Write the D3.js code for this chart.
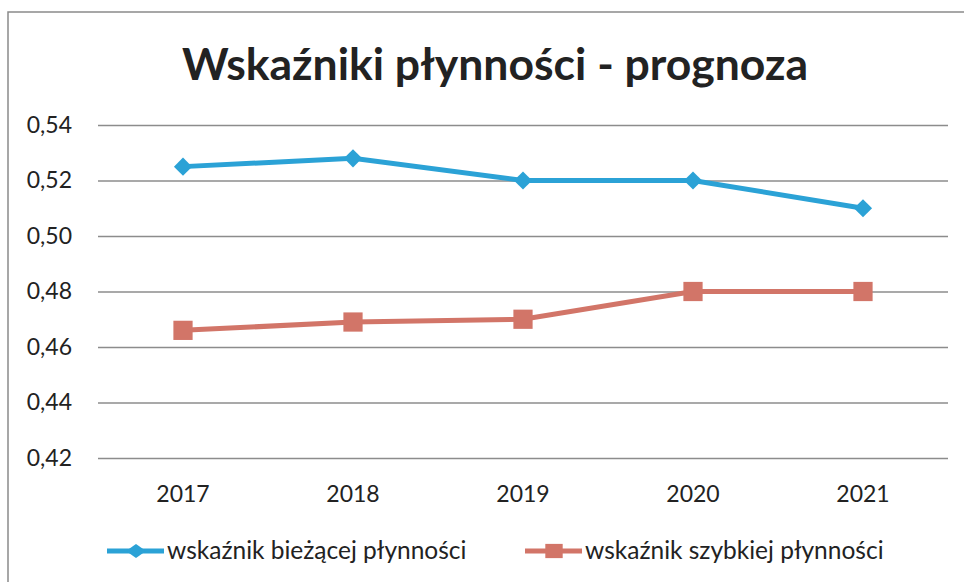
<!DOCTYPE html>
<html lang="pl">
<head>
<meta charset="utf-8">
<title>Wskaźniki płynności - prognoza</title>
<script src="https://d3js.org/d3.v7.min.js"></script>
<style>
  body { margin: 0; background: #fff; }
  text { font-family: Lato, "Open Sans", sans-serif; fill: #222; }
</style>
</head>
<body>
<script>
// dane
var years = ["2017", "2018", "2019", "2020", "2021"];
var biezacej = [0.525, 0.528, 0.520, 0.520, 0.510];
var szybkiej = [0.466, 0.469, 0.470, 0.480, 0.480];
var yTicks = [0.42, 0.44, 0.46, 0.48, 0.50, 0.52, 0.54];
var seriesNames = ["wskaźnik bieżącej płynności", "wskaźnik szybkiej płynności"];
var colors = ["#2ba2d6", "#d27568"];

var W = 964, H = 582;
var mLeft = 98, mRight = 948, mTop = 125, mBottom = 458;

var svg = d3.select("body").append("svg")
  .attr("width", W)
  .attr("height", H);

// ramka (prawy i dolny brzeg poza kadrem)
svg.append("rect")
  .attr("x", 8).attr("y", 12)
  .attr("width", 980).attr("height", 600)
  .attr("fill", "none")
  .attr("stroke", "#8a8a8a")
  .attr("stroke-width", 1.5);

svg.append("text")
  .attr("x", 495).attr("y", 80)
  .attr("text-anchor", "middle")
  .attr("font-size", "44.5px")
  .attr("font-weight", "bold")
  .text("Wskaźniki płynności - prognoza");

var x = d3.scaleBand().domain(years).range([mLeft, mRight]);
var y = d3.scaleLinear().domain([0.42, 0.54]).range([mBottom, mTop]);

// siatka + etykiety osi Y
var yAxis = svg.append("g")
  .attr("transform", "translate(" + mLeft + ",0)")
  .call(d3.axisLeft(y).tickValues(yTicks)
    .tickSize(-(mRight - mLeft))
    .tickPadding(26)
    .tickFormat(function (d) { return d3.format(".2f")(d).replace(".", ","); }));
yAxis.select(".domain").remove();
yAxis.selectAll("line").attr("stroke", "#8c8c8c").attr("stroke-width", 1.5);
yAxis.selectAll("text").attr("font-size", "23px").attr("font-family", "Lato, sans-serif").attr("fill", "#222");

// oś X
var xAxis = svg.append("g")
  .attr("transform", "translate(0," + mBottom + ")")
  .call(d3.axisBottom(x).tickSize(0).tickPadding(28));
xAxis.select(".domain").remove();
xAxis.selectAll("text").attr("font-size", "23px").attr("font-family", "Lato, sans-serif").attr("fill", "#222");

var cx = function (i) { return x(years[i]) + x.bandwidth() / 2; };
var line = d3.line()
  .x(function (d, i) { return cx(i); })
  .y(function (d) { return y(d); });

var allSeries = [biezacej, szybkiej];
allSeries.forEach(function (vals, s) {
  svg.append("path")
    .datum(vals)
    .attr("d", line)
    .attr("fill", "none")
    .attr("stroke", colors[s])
    .attr("stroke-width", 5);
});

var diamond = d3.symbol().type(d3.symbolDiamond2).size(210);
var square = d3.symbol().type(d3.symbolSquare).size(370);

svg.selectAll(".m0").data(biezacej).enter().append("path")
  .attr("class", "m0")
  .attr("d", diamond)
  .attr("transform", function (d, i) { return "translate(" + cx(i) + "," + y(d) + ")"; })
  .attr("fill", colors[0]);

svg.selectAll(".m1").data(szybkiej).enter().append("path")
  .attr("class", "m1")
  .attr("d", square)
  .attr("transform", function (d, i) { return "translate(" + cx(i) + "," + y(d) + ")"; })
  .attr("fill", colors[1]);

// legenda
var legendX = [107, 525];
var legY = 551;
seriesNames.forEach(function (name, s) {
  var g = svg.append("g").attr("transform", "translate(" + legendX[s] + "," + legY + ")");
  g.append("line")
    .attr("x1", 0).attr("x2", 57)
    .attr("stroke", colors[s]).attr("stroke-width", 5);
  g.append("path")
    .attr("d", s === 0 ? d3.symbol().type(d3.symbolDiamond2).size(150)() : d3.symbol().type(d3.symbolSquare).size(250)())
    .attr("transform", "translate(29,0)" + (s === 0 ? " scale(1.3,0.9)" : " scale(1.1,0.9)"))
    .attr("fill", colors[s]);
  g.append("text")
    .attr("x", 60).attr("y", 8)
    .attr("font-size", "24.5px")
    .text(name);
});
</script>
</body>
</html>
